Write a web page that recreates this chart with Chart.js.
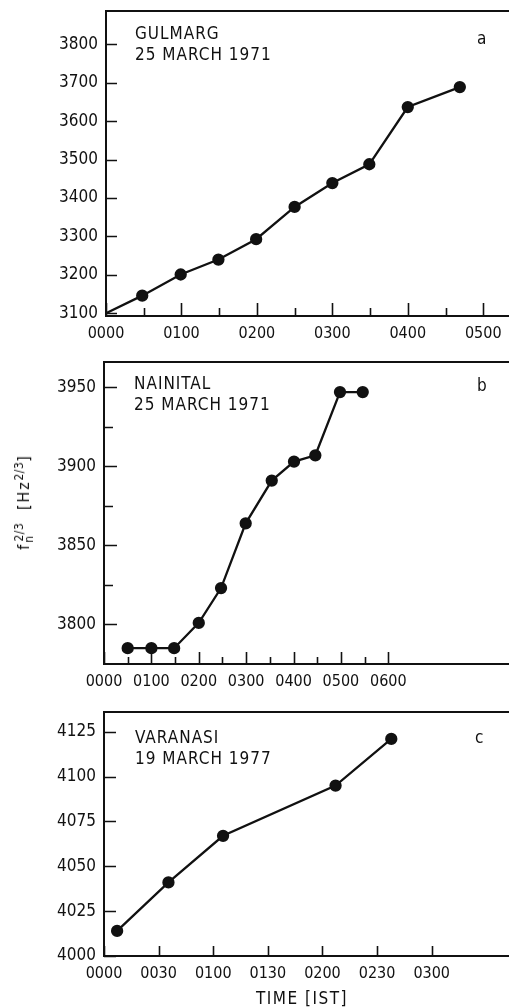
<!DOCTYPE html>
<html lang="en">
<head>
<meta charset="UTF-8">
<title>Ionospheric f_n^(2/3) vs time</title>
<style>
    html, body {
        margin: 0;
        padding: 0;
        background: #fff;
        overflow: hidden;
    }
    #page {
        position: relative;
        width: 509px;
        height: 1007px;
        overflow: hidden;
        font-family: "DejaVu Sans Condensed", "DejaVu Sans", sans-serif;
        color: #111;
    }
    /* wider than the page so the right side of each frame falls off the edge */
    .panel {
        position: absolute;
        left: 0;
        width: 530px;
    }
    .note {
        position: absolute;
        font-size: 17px;
        line-height: 21px;
        letter-spacing: 1px;
        white-space: nowrap;
    }
    .tag {
        position: absolute;
        font-size: 17px;
        line-height: 17px;
    }
    #ytitle {
        position: absolute;
        left: 24px;
        top: 502px;
        transform: translate(-50%, -50%) rotate(-90deg);
        font-size: 16px;
        line-height: 16px;
        letter-spacing: 1.8px;
        white-space: nowrap;
    }
    #ytitle sub, #ytitle sup {
        font-size: 12px;
        line-height: 0;
        letter-spacing: 0.5px;
    }
    #ytitle sub {
        vertical-align: -4px;
    }
    #ytitle sup.over {
        margin-left: -6px;
    }
    #xtitle {
        position: absolute;
        left: 302px;
        top: 998px;
        transform: translate(-50%, -50%);
        font-size: 17px;
        letter-spacing: 1.5px;
        white-space: nowrap;
    }
</style>
</head>
<body>
<div id="page">
    <div class="panel" style="top:0px; height:345px"><canvas id="chartA" width="530" height="345"></canvas></div>
    <div class="panel" style="top:345px; height:345px"><canvas id="chartB" width="530" height="345"></canvas></div>
    <div class="panel" style="top:690px; height:317px"><canvas id="chartC" width="530" height="317"></canvas></div>

    <div class="note" style="left:135px; top:23px">GULMARG<br>25 MARCH 1971</div>
    <div class="tag" style="left:477px; top:30px">a</div>

    <div class="note" style="left:134px; top:373px">NAINITAL<br>25 MARCH 1971</div>
    <div class="tag" style="left:477px; top:377px">b</div>

    <div class="note" style="left:135px; top:727px">VARANASI<br>19 MARCH 1977</div>
    <div class="tag" style="left:475px; top:729px">c</div>

    <div id="ytitle">f<sub>n</sub><sup class="over">2/3</sup> &nbsp;[Hz<sup>2/3</sup>]</div>
    <div id="xtitle">TIME [IST]</div>
</div>

<script src="https://cdn.jsdelivr.net/npm/chart.js"></script>
<script>
// Panel a - Gulmarg, 25 March 1971 (time in hours IST)
const gulmargTime = [0, 0.48, 0.99, 1.49, 1.99, 2.50, 3.00, 3.49, 4.00, 4.69];
const gulmargFreq = [3100, 3146, 3201, 3240, 3293, 3377, 3439, 3488, 3637, 3689];
const gulmargXTicks = [0, 0.5, 1, 1.5, 2, 2.5, 3, 3.5, 4, 4.5, 5];
const gulmargXLabels = ['0000', '', '0100', '', '0200', '', '0300', '', '0400', '', '0500'];
const gulmargYTicks = [3100, 3200, 3300, 3400, 3500, 3600, 3700, 3800];
const gulmargYLabels = ['3100', '3200', '3300', '3400', '3500', '3600', '3700', '3800'];

// Panel b - Nainital, 25 March 1971
const nainitalTime = [0.50, 1.00, 1.48, 2.00, 2.47, 2.99, 3.54, 4.01, 4.46, 4.98, 5.46];
const nainitalFreq = [3785, 3785, 3785, 3801, 3823, 3864, 3891, 3903, 3907, 3947, 3947];
const nainitalXTicks = [0, 0.5, 1, 1.5, 2, 2.5, 3, 3.5, 4, 4.5, 5, 5.5, 6];
const nainitalXLabels = ['0000', '', '0100', '', '0200', '', '0300', '', '0400', '', '0500', '', '0600'];
const nainitalYTicks = [3800, 3825, 3850, 3875, 3900, 3925, 3950];
const nainitalYLabels = ['3800', '', '3850', '', '3900', '', '3950'];

// Panel c - Varanasi, 19 March 1977
const varanasiTime = [0.12, 0.59, 1.09, 2.12, 2.63];
const varanasiFreq = [4014, 4041, 4067, 4095, 4121];
const varanasiXTicks = [0, 0.5, 1, 1.5, 2, 2.5, 3];
const varanasiXLabels = ['0000', '0030', '0100', '0130', '0200', '0230', '0300'];
const varanasiYTicks = [4000, 4025, 4050, 4075, 4100, 4125];
const varanasiYLabels = ['4000', '4025', '4050', '4075', '4100', '4125'];

Chart.defaults.font.family = '"DejaVu Sans Condensed", "DejaVu Sans", sans-serif';
Chart.defaults.color = '#111';

// frame round the plot area and tick marks pointing inwards
const frameTicks = {
    id: 'frameTicks',
    afterDraw(chart, args, opts) {
        const ctx = chart.ctx;
        const ca = chart.chartArea;
        const x = chart.scales.x;
        const y = chart.scales.y;
        ctx.save();
        ctx.strokeStyle = '#111';
        ctx.lineWidth = 2;
        ctx.strokeRect(ca.left, ca.top, ca.right - ca.left, ca.bottom - ca.top);
        ctx.lineWidth = 1.6;
        ctx.beginPath();
        x.ticks.forEach(t => {
            const px = Math.round(x.getPixelForValue(t.value)) + 0.5;
            const len = t.label === '' ? opts.xMinor : opts.xMajor;
            ctx.moveTo(px, ca.bottom);
            ctx.lineTo(px, ca.bottom - len);
        });
        y.ticks.forEach(t => {
            const py = Math.round(y.getPixelForValue(t.value)) + 0.5;
            const len = t.label === '' ? opts.yMinor : opts.yMajor;
            ctx.moveTo(ca.left, py);
            ctx.lineTo(ca.left + len, py);
        });
        ctx.stroke();
        ctx.restore();
    }
};

function makePanel(id, p) {
    const points = p.time.map((t, i) => ({ x: t, y: p.freq[i] }));
    return new Chart(document.getElementById(id), {
        type: 'line',
        data: {
            datasets: [{
                data: points,
                borderColor: '#111',
                backgroundColor: '#111',
                borderWidth: 2.3,
                pointRadius: p.radius,
                pointHoverRadius: p.radius,
                tension: 0
            }]
        },
        options: {
            responsive: false,
            animation: false,
            devicePixelRatio: 1,
            layout: {
                autoPadding: false,
                padding: { top: p.top, left: 0, right: 0, bottom: 0 }
            },
            plugins: {
                legend: { display: false },
                tooltip: { enabled: false },
                frameTicks: p.ticks
            },
            scales: {
                x: {
                    type: 'linear',
                    min: p.xMin,
                    max: p.xMax,
                    grid: { display: false, drawTicks: false },
                    border: { display: false },
                    afterBuildTicks: s => { s.ticks = p.xTicks.map(v => ({ value: v })); },
                    afterFit: s => {
                        s.height = p.xHeight;
                        s.paddingLeft = 0;
                        s.paddingRight = 0;
                    },
                    ticks: {
                        autoSkip: false,
                        maxRotation: 0,
                        padding: 8,
                        font: { size: 16 },
                        callback: (v, i) => p.xLabels[i]
                    }
                },
                y: {
                    min: p.yMin,
                    max: p.yMax,
                    grid: { display: false, drawTicks: false },
                    border: { display: false },
                    afterBuildTicks: s => { s.ticks = p.yTicks.map(v => ({ value: v })); },
                    afterFit: s => {
                        s.width = p.yWidth;
                        s.paddingTop = 0;
                        s.paddingBottom = 0;
                    },
                    ticks: {
                        autoSkip: false,
                        padding: 8,
                        font: { size: 17 },
                        callback: (v, i) => p.yLabels[i]
                    }
                }
            }
        },
        plugins: [frameTicks]
    });
}

makePanel('chartA', {
    time: gulmargTime, freq: gulmargFreq,
    radius: gulmargTime.map((t, i) => i === 0 ? 0 : 5),
    xTicks: gulmargXTicks, xLabels: gulmargXLabels,
    yTicks: gulmargYTicks, yLabels: gulmargYLabels,
    xMin: 0, xMax: 5.62, yMin: 3093, yMax: 3887,
    top: 11, xHeight: 29, yWidth: 106,
    ticks: { xMajor: 13, xMinor: 8, yMajor: 11, yMinor: 11 }
});

makePanel('chartB', {
    time: nainitalTime, freq: nainitalFreq, radius: 5,
    xTicks: nainitalXTicks, xLabels: nainitalXLabels,
    yTicks: nainitalYTicks, yLabels: nainitalYLabels,
    xMin: 0, xMax: 8.99, yMin: 3775, yMax: 3966,
    top: 17, xHeight: 26, yWidth: 104,
    ticks: { xMajor: 12, xMinor: 7, yMajor: 13, yMinor: 9 }
});

makePanel('chartC', {
    time: varanasiTime, freq: varanasiFreq, radius: 5,
    xTicks: varanasiXTicks, xLabels: varanasiXLabels,
    yTicks: varanasiYTicks, yLabels: varanasiYLabels,
    xMin: 0, xMax: 3.90, yMin: 4000, yMax: 4136,
    top: 22, xHeight: 51, yWidth: 104,
    ticks: { xMajor: 10, xMinor: 10, yMajor: 12, yMinor: 12 }
});
</script>
</body>
</html>
